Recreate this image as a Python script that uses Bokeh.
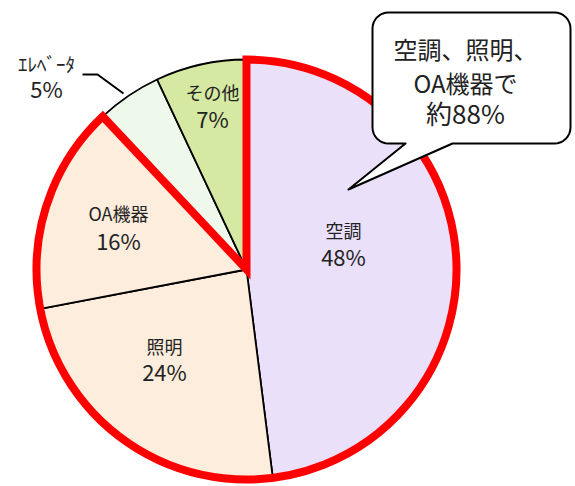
import math
from bokeh.plotting import figure
from bokeh.models import Range1d
from bokeh.core.properties import value
from bokeh.embed import file_html
from bokeh.resources import INLINE

# ---- data ----
categories = ["空調", "照明", "OA機器", "ｴﾚﾍﾞｰﾀ", "その他"]
shares = [48, 24, 16, 5, 7]
colors = ["#ebe0fa", "#fdeddc", "#fdeddc", "#eef9ec", "#d6e9a2"]
highlight_share = 88
callout_lines = ["空調、照明、", "OA機器で", "約88%"]

W, H = 575, 486
FONT = "Noto Sans CJK JP"

def Y(py):
    return H - py

p = figure(width=W, height=H, output_backend="svg", toolbar_location=None,
           x_range=Range1d(0, W), y_range=Range1d(0, H), min_border=0)
p.axis.visible = False
p.grid.visible = False
p.outline_line_color = None
p.background_fill_color = "white"
p.border_fill_color = "white"

cx, cy, R = 246, Y(269), 210
total = sum(shares)
cum = 0
starts, ends = [], []
for s in shares:
    starts.append(math.pi / 2 - 2 * math.pi * cum / total)
    cum += s
    ends.append(math.pi / 2 - 2 * math.pi * cum / total)

p.wedge(x=[cx] * len(shares), y=[cy] * len(shares), radius=R,
        start_angle=starts, end_angle=ends, direction="clock",
        fill_color=colors, line_color="black", line_width=1.8)

# red outline for the 88% group
p.wedge(x=[cx], y=[cy], radius=R, start_angle=[math.pi / 2],
        end_angle=[math.pi / 2 - 2 * math.pi * highlight_share / total],
        direction="clock", fill_alpha=0, line_color="#ff0000",
        line_width=8, line_join="miter")

# labels (name line, percent line) positions in pixel coords
label_pos = [(343, 229, 255), (164, 345, 370), (118, 212, 239), (46, 63, 87), (212, 91, 117)]
name_sizes = ["18px", "18px", "18px", "19px", "18px"]
for (lx, ly1, ly2), name, sh, ns in zip(label_pos, categories, shares, name_sizes):
    p.text(x=[lx], y=[Y(ly1)], text=[name], text_font=value(FONT), text_font_size=ns,
           text_align="center", text_baseline="middle", text_color="#222222")
    p.text(x=[lx], y=[Y(ly2)], text=[f"{sh}%"], text_font=value(FONT), text_font_size="22px",
           text_align="center", text_baseline="middle", text_color="#222222")

# leader line for elevator
p.line(x=[82, 97, 123], y=[Y(74), Y(74), Y(93)], line_color="black", line_width=2)

# callout bubble
x0, x1, y0, y1, r = 372, 570, 12, 143, 16
pts = []
def arc(ccx, ccy, a0, a1, n=8):
    for i in range(n + 1):
        a = a0 + (a1 - a0) * i / n
        pts.append((ccx + r * math.cos(a), ccy + r * math.sin(a)))
pts.append((x0 + r, y0))
pts.append((x1 - r, y0))
arc(x1 - r, y0 + r, -math.pi / 2, 0)
pts.append((x1, y1 - r))
arc(x1 - r, y1 - r, 0, math.pi / 2)
pts.append((452, y1))
pts.append((348, 189))
pts.append((405, y1))
pts.append((x0 + r, y1))
arc(x0 + r, y1 - r, math.pi / 2, math.pi)
pts.append((x0, y0 + r))
arc(x0 + r, y0 + r, math.pi, 1.5 * math.pi)
p.patch(x=[q[0] for q in pts], y=[Y(q[1]) for q in pts], fill_color="white",
        line_color="black", line_width=2, line_join="round")

for ln, ly, fs in zip(callout_lines, [48, 82, 112], ["24px", "24px", "26px"]):
    p.text(x=[465], y=[Y(ly)], text=[ln], text_font=value(FONT), text_font_size=fs,
           text_align="center", text_baseline="middle", text_color="#222222")

open("out.html", "w").write(file_html(p, INLINE))
